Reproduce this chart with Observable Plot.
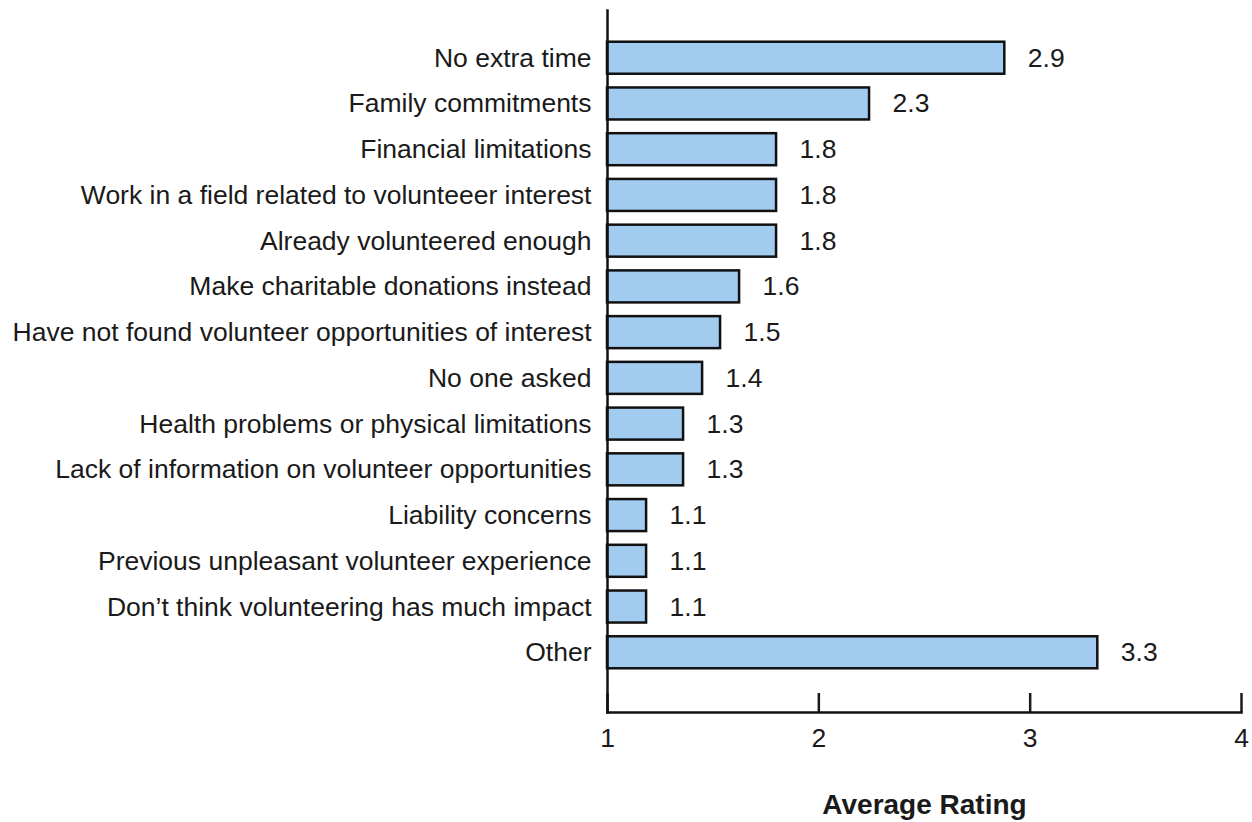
<!DOCTYPE html>
<html><head><meta charset="utf-8">
<script src="https://cdn.jsdelivr.net/npm/d3@7"></script>
<script src="https://cdn.jsdelivr.net/npm/@observablehq/plot@0.6"></script>
<style>
body{margin:0;background:#fff;}
#chart svg g[aria-label="x-axis label"] text{font-weight:bold;font-size:28px;}
</style></head><body><div id="chart"></div>
<script>
const categories = [
  "No extra time",
  "Family commitments",
  "Financial limitations",
  "Work in a field related to volunteeer interest",
  "Already volunteered enough",
  "Make charitable donations instead",
  "Have not found volunteer opportunities of interest",
  "No one asked",
  "Health problems or physical limitations",
  "Lack of information on volunteer opportunities",
  "Liability concerns",
  "Previous unpleasant volunteer experience",
  "Don\u2019t think volunteering has much impact",
  "Other"
];
const values = [2.88, 2.24, 1.80, 1.80, 1.80, 1.625, 1.535, 1.45, 1.36, 1.36, 1.185, 1.185, 1.185, 3.32];
const valueLabels = ["2.9","2.3","1.8","1.8","1.8","1.6","1.5","1.4","1.3","1.3","1.1","1.1","1.1","3.3"];
const xTicks = [1, 2, 3, 4];
const baseline = 1;
const axisTitle = "Average Rating";

const data = categories.map((c, i) => ({category: c, value: values[i], label: valueLabels[i]}));

const chart = Plot.plot({
  width: 1252, height: 822,
  marginLeft: 607, marginRight: 11, marginTop: 10, marginBottom: 110,
  style: {fontFamily: '"Liberation Sans", Arial, Helvetica, sans-serif', fontSize: "26.5px", color: "#1a1a1a", background: "#fff"},
  x: {domain: [1, 4]},
  y: {domain: categories, padding: 0.3, round: false, insetTop: 18, insetBottom: 30},
  marks: [
    Plot.barX(data, {y: "category", x1: () => baseline, x2: "value", fill: "#a2cbf0", stroke: "#111", strokeWidth: 2.5}),
    Plot.text(data, {y: "category", x: "value", text: "label", textAnchor: "start", dx: 23, fill: "#1a1a1a"}),
    Plot.axisY({tickSize: 0, tickPadding: 16, label: null}),
    Plot.axisX({ticks: xTicks, tickFormat: d3.format("d"), tickSize: -19, tickPadding: 35, strokeWidth: 2.5, label: axisTitle, labelAnchor: "center", labelOffset: 101, labelArrow: "none"}),
    Plot.frame({anchor: "left", strokeWidth: 2.5, stroke: "#111"}),
    Plot.frame({anchor: "bottom", strokeWidth: 2.5, stroke: "#111"})
  ]
});
document.getElementById("chart").appendChild(chart);
</script></body></html>
